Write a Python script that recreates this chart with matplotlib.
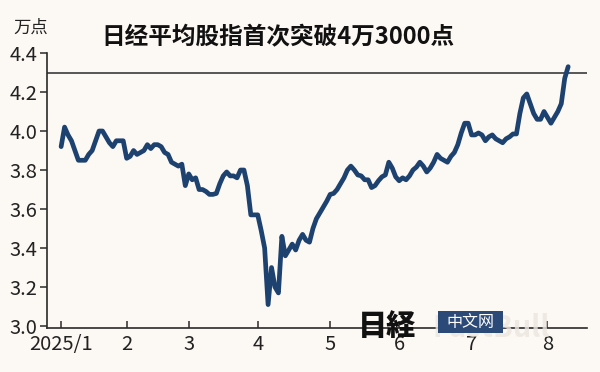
import matplotlib
matplotlib.use('Agg')
import matplotlib.pyplot as plt
from matplotlib.patches import Rectangle

plt.rcParams['font.family'] = ['Noto Sans CJK SC', 'DejaVu Sans']

TITLE = '日经平均股指首次突破4万3000点'
UNIT = '万点'

# Nikkei close in 10k points, one value per trading day from 2025/1/6
nikkei = [
    3.92, 4.02, 3.98, 3.95, 3.90, 3.85, 3.85, 3.85, 3.88, 3.90,
    3.95, 4.00, 4.00, 3.97, 3.94, 3.92, 3.95, 3.95, 3.95,
    3.86, 3.87, 3.90, 3.88, 3.89, 3.90, 3.93, 3.91, 3.93, 3.93,
    3.92, 3.89, 3.88, 3.84, 3.83, 3.82, 3.83, 3.72,
    3.78, 3.75, 3.76, 3.70, 3.70, 3.69, 3.675, 3.675, 3.68, 3.73,
    3.77, 3.79, 3.77, 3.77, 3.76, 3.80, 3.80, 3.72, 3.57, 3.57,
    3.57, 3.49, 3.40, 3.11, 3.30, 3.20, 3.17, 3.46, 3.36, 3.39,
    3.42, 3.39, 3.44, 3.47, 3.44, 3.43, 3.50, 3.55, 3.58, 3.61, 3.64,
    3.675, 3.68, 3.70, 3.73, 3.76, 3.80, 3.82, 3.80, 3.775, 3.77,
    3.75, 3.75, 3.71, 3.72, 3.745, 3.765, 3.775, 3.84, 3.81, 3.765,
    3.745, 3.76, 3.75, 3.77, 3.80, 3.815, 3.84, 3.82, 3.79, 3.81,
    3.84, 3.88, 3.86, 3.85, 3.84, 3.87, 3.89, 3.93, 3.99, 4.04, 4.04,
    3.98, 3.98, 3.99, 3.98, 3.95, 3.97, 3.98, 3.96, 3.95, 3.94,
    3.96, 3.97, 3.985, 3.985, 4.09, 4.17, 4.19, 4.14, 4.09, 4.06,
    4.06, 4.10,
    4.07, 4.04, 4.07, 4.10, 4.14, 4.27, 4.33,
]

# first trading day of each month (index into nikkei)
month_starts = [0, 19, 37, 57, 78, 98, 119, 141]
month_labels = ['2025/1', '2', '3', '4', '5', '6', '7', '8']

y_ticks = [3.0, 3.2, 3.4, 3.6, 3.8, 4.0, 4.2, 4.4]
threshold = 4.3

BG = '#fcf8f3'
LINE = '#1d4270'
INK = '#2a2a2a'


def _build_plot(fig, ax):
    ax.plot(range(len(nikkei)), nikkei, color=LINE, lw=3.4,
            solid_capstyle='round', solid_joinstyle='round', zorder=3)
    ax.axhline(threshold, color=INK, lw=1.1, zorder=2)

    ax.set_xlim(-4.1, 152.4)
    ax.set_ylim(2.99, 4.4)

    ax.set_yticks(y_ticks)
    ax.set_yticklabels(['%.1f' % v for v in y_ticks])
    ax.set_xticks(month_starts)
    ax.set_xticklabels(month_labels)

    ax.tick_params(axis='y', direction='out', length=5, width=1.1,
                   color=INK, labelsize=14.5, labelcolor='#222', pad=2)
    ax.tick_params(axis='x', direction='in', length=5, width=1.1,
                   color=INK, labelsize=14.5, labelcolor='#222', pad=4)

    for side in ['top', 'right']:
        ax.spines[side].set_visible(False)
    for side in ['left', 'bottom']:
        ax.spines[side].set_color(INK)
        ax.spines[side].set_linewidth(1.2)

    fig.text(0.464, 0.9, TITLE, ha='center', va='center',
             fontsize=17, fontweight='bold', color='#111')
    fig.text(0.022, 0.925, UNIT, ha='left', va='center',
             fontsize=12.5, color='#222')


def _add_watermark(fig):
    # faint site mark sitting behind the logo, as in the source image
    fig.text(0.818, 0.118, 'FastBull', ha='center', va='center',
             fontsize=21, fontweight='bold', color='#ebe6e0', alpha=0.8,
             zorder=1)
    fig.text(0.645, 0.122, '日経', ha='center', va='center',
             fontsize=21, fontweight='black', color='#111',
             family=['Noto Sans CJK JP', 'DejaVu Sans'], zorder=6)
    fig.patches.append(Rectangle((0.73, 0.105), 0.108, 0.058,
                                 transform=fig.transFigure,
                                 facecolor='#2c4a78', edgecolor='none',
                                 zorder=6))
    fig.text(0.784, 0.134, '中文网', ha='center', va='center',
             fontsize=11.5, color='white', zorder=7)


def plot():
    fig = plt.figure(figsize=(6, 3.72), dpi=100, facecolor=BG)
    ax = fig.add_axes([0.0783, 0.1183, 0.8997, 0.7392])
    ax.set_facecolor(BG)

    _build_plot(fig, ax)
    _add_watermark(fig)

    plt.savefig('out.png', dpi=100, facecolor=BG)
    plt.clf()


plot()
